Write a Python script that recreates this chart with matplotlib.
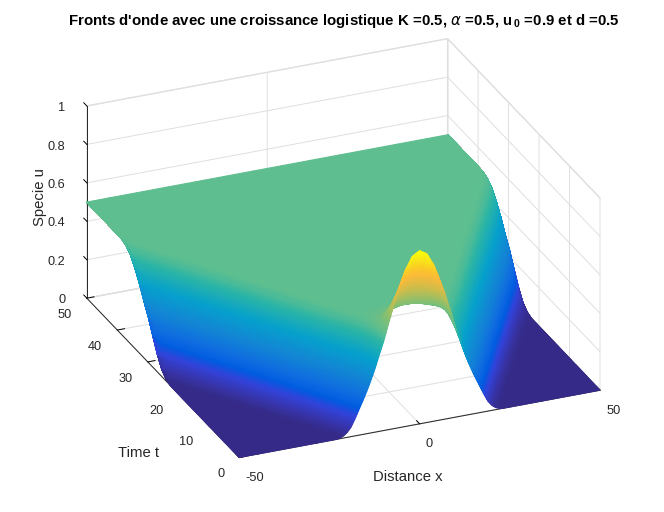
import numpy as np
import matplotlib
matplotlib.use("Agg")
import matplotlib.pyplot as plt
from matplotlib.colors import LinearSegmentedColormap
from matplotlib.transforms import ScaledTranslation

plt.rcParams['font.family'] = ['Liberation Sans', 'DejaVu Sans']
plt.rcParams['mathtext.fontset'] = 'custom'
plt.rcParams['mathtext.bf'] = 'Liberation Sans:bold'
plt.rcParams['mathtext.rm'] = 'Liberation Sans:bold'
plt.rcParams['axes.unicode_minus'] = False

# values
radius_t = [0, 5, 10, 20, 30, 40, 50]          # time
radius_x = [14, 20, 26, 38, 50, 62, 74]        # |x| where u = 0.25
front_s = [-12, -10, -8, -7, -6, -5, -4, -3, -2, -1, 0, 1, 2, 3, 4, 5, 6, 7, 8, 9]     # |x| - radius
front_u = [0.5, 0.498, 0.485, 0.47, 0.447, 0.42, 0.39, 0.355, 0.315, 0.28, 0.25,
           0.205, 0.165, 0.125, 0.085, 0.05, 0.027, 0.012, 0.004, 0.0]
hump_t = [0, 1, 2, 3, 4, 6, 8]                 # decay of the initial peak
hump_h = [0.40, 0.30, 0.20, 0.12, 0.06, 0.02, 0.0]
hump_x = [0, 2, 4, 6, 8, 10, 12, 14]
hump_shape = [1.0, 0.945, 0.78, 0.56, 0.36, 0.18, 0.09, 0.0]

x_ticks = [-50, 0, 50]
t_ticks = [0, 10, 20, 30, 40, 50]
z_ticks = [0, 0.2, 0.4, 0.6, 0.8, 1]
z_labels = ['0', '0.2', '0.4', '0.6', '0.8', '1']

parula = LinearSegmentedColormap.from_list('parula', [
    (0.0, (0.208, 0.166, 0.529)), (0.05, (0.212, 0.212, 0.69)),
    (0.1, (0.2, 0.26, 0.85)), (0.15, (0.0, 0.36, 0.88)),
    (0.2, (0.06, 0.42, 0.88)), (0.3, (0.07, 0.53, 0.83)),
    (0.4, (0.02, 0.63, 0.8)), (0.5, (0.17, 0.71, 0.65)),
    (0.55, (0.36, 0.745, 0.57)), (0.65, (0.55, 0.75, 0.43)),
    (0.75, (0.8, 0.74, 0.3)), (0.85, (0.99, 0.73, 0.22)),
    (0.9, (0.98, 0.8, 0.15)), (1.0, (0.976, 0.983, 0.054))])

# mesh follows the fronts so colour bands stay straight, only for the shading;
# the heights come from the lists above
t = np.concatenate([np.linspace(0, 8, 50), np.linspace(8, 50, 30)[1:]])
s = np.concatenate([np.linspace(-14, 9, 70), np.linspace(9, 36, 6)[1:]])
frac = np.linspace(-1, 1, 16)[1:-1]
R = np.interp(t, radius_t, radius_x)[:, None]
X = np.hstack([-(R + s[::-1]), frac * (R - 14), R + s])
X = np.clip(X, -50, 50)
T = np.repeat(t[:, None], X.shape[1], axis=1)
U = np.interp(np.abs(X) - R, front_s, front_u)
U = U + np.interp(T, hump_t, hump_h) * np.interp(np.abs(X), hump_x, hump_shape)

fig = plt.figure(figsize=(6.64, 5.12), dpi=100)
ax = fig.add_axes([4.5 / 664, 1 / 512, 1, 1], projection='3d', proj_type='ortho')
ax.view_init(elev=26.2, azim=-112.9)
ax.set_box_aspect((1, 1, 0.547), zoom=1.126)

colors = parula(U / 0.9)
# edges take the face colours, this hides the seams of the mesh
surf = ax.plot_surface(X, T, U, facecolors=colors, rstride=1, cstride=1,
                       linewidth=0.8, antialiased=True, shade=False)
surf.set_clip_on(False)

ax.set_xlim(-50, 50, view_margin=0)
ax.set_ylim(0, 50, view_margin=0)
ax.set_zlim(0, 1, view_margin=0)
ax.set_xticks(x_ticks)
ax.set_yticks(t_ticks)
ax.set_zticks(z_ticks)
ax.set_zticklabels(z_labels)
ax.tick_params(labelsize=9.2, labelcolor='#262626', pad=0)


def nudge(labels, dx, dy, **align):
    # pixel offset on the tick labels, figure is at 100 dpi
    for lab in labels:
        lab.set(**align)
        lab.set_transform(lab.get_transform() + ScaledTranslation(dx / 100, dy / 100, fig.dpi_scale_trans))


nudge(ax.get_xticklabels(), 3, 0, ha='left')
nudge(ax.get_yticklabels(), 0, 5, ha='right')
nudge(ax.get_zticklabels(), 10, 10, ha='right')

# z ticks lean along the time axis as in the reference
ax.zaxis._get_tickdir = lambda pos: 1

for axis in (ax.xaxis, ax.yaxis, ax.zaxis):
    axis.set_pane_color((1, 1, 1, 1))
    axis.pane.set_edgecolor('#e2e2e2')
    axis.pane.set_clip_on(False)
    axis.line.set_color('#262626')
    axis.line.set_linewidth(0.7)
    axis._axinfo['grid'].update(color='#dfdfdf', linewidth=0.7)
    axis._axinfo['tick'].update(inward_factor=0, outward_factor=0.25)
    axis._axinfo['tick']['color'] = '#262626'
    axis._axinfo['tick']['linewidth'] = {True: 0.7, False: 0.5}

fig.text(344 / 664, 1 - 21 / 512,
         r"Fronts d'onde avec une croissance logistique K =0.5, $\alpha$ =0.5, u$_{\,0}$ =0.9 et d =0.5",
         ha='center', va='center', fontsize=10.85, fontweight='bold', color='black')
fig.text(408 / 664, 1 - 477 / 512, 'Distance x', ha='center', va='center', fontsize=10.7, color='#262626')
fig.text(139 / 664, 1 - 453 / 512, 'Time t', ha='center', va='center', fontsize=10.7, color='#262626')
fig.text(40 / 664, 1 - 197 / 512, 'Specie u', ha='center', va='center', rotation=90, fontsize=10.7, color='#262626')

fig.savefig('out.png', dpi=100)
